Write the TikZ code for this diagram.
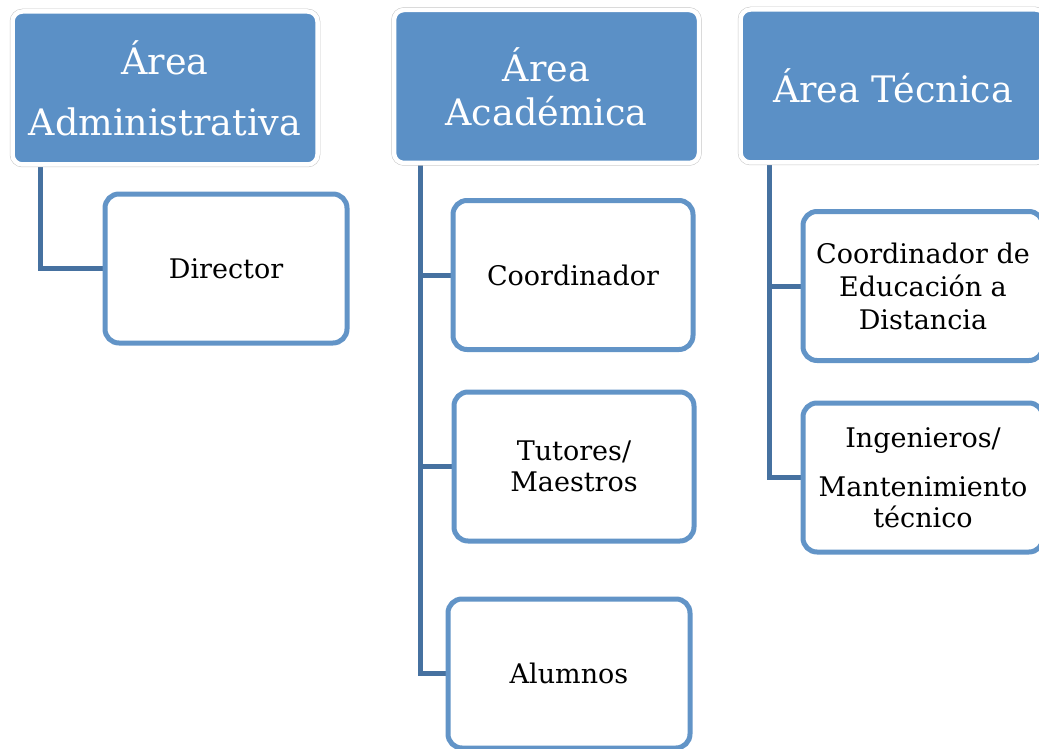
\documentclass[tikz,border=0pt]{standalone}
\usepackage{fontspec}
\setmainfont{DejaVu Serif}
\usepackage{xcolor}
\usepackage{tikz}
\usetikzlibrary{positioning, backgrounds}
\definecolor{areablue}{RGB}{91, 144, 198}
\definecolor{boxblue}{RGB}{98, 148, 199}
\definecolor{linkblue}{RGB}{70, 113, 160}

\begin{document}
\begin{tikzpicture}[
  x=1pt, y=-1pt,
  areabox/.style={rectangle, rounded corners=10pt, fill=areablue, draw=white, line width=4.5pt,
    preaction={draw=black!22, line width=5.5pt}, minimum width=305pt, minimum height=153pt,
    align=center, text=white, font=\fontsize{36.5}{44}\selectfont},
  rolebox/.style={rectangle, rounded corners=14pt, fill=white, draw=boxblue, line width=5pt,
    minimum width=242pt, minimum height=149pt, align=center, font=\fontsize{27}{33}\selectfont},
  link/.style={draw=linkblue, line width=5pt},
]
  \useasboundingbox (0,0) rectangle (1039,749);
  \clip (0,0) rectangle (1039,749);

  % area headers
  \node[areabox] (admin) at (165,88) {Área\\[17pt]Administrativa};
  \node[areabox] (academica) at (546.5,86.5) {Área\\Académica};
  \node[areabox] (tecnica) at (893,86) {Área Técnica};

  % roles
  \node[rolebox] (director) at (226,268.5) {Director};
  \node[rolebox, minimum width=240pt] (coord) at (573,275) {Coordinador};
  \node[rolebox, minimum width=240pt] (tutores) at (574,466.5) {Tutores/\\[-2pt]Maestros};
  \node[rolebox] (alumnos) at (569,673.5) {Alumnos};
  \node[rolebox, minimum width=240pt] (coordedu) at (923,286) {Coordinador de\\Educación a\\Distancia};
  \node[rolebox, minimum width=240pt] (ingenieros) at (923,477.5) {Ingenieros/\\[16pt]Mantenimiento\\[-2pt]técnico};

  \begin{scope}[on background layer]
    \draw[link] ([xshift=30pt]admin.south west) |- (director.west);
    \draw[link] ([xshift=29pt]academica.south west) |- (coord.west);
    \draw[link] ([xshift=29pt]academica.south west) |- (tutores.west);
    \draw[link] ([xshift=29pt]academica.south west) |- (alumnos.west);
    \draw[link] ([xshift=31pt]tecnica.south west) |- (coordedu.west);
    \draw[link] ([xshift=31pt]tecnica.south west) |- (ingenieros.west);
  \end{scope}
\end{tikzpicture}
\end{document}
